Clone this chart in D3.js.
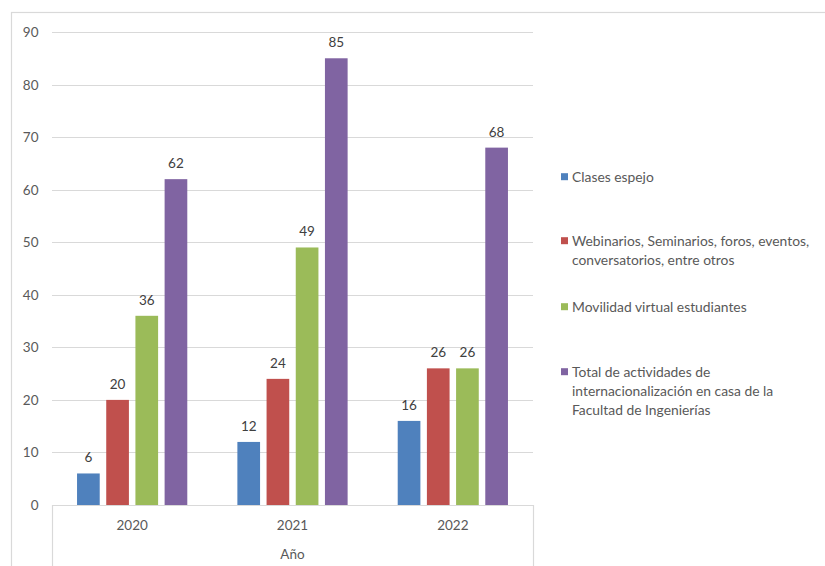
<!DOCTYPE html>
<html>
<head>
<meta charset="utf-8">
<script src="https://cdn.jsdelivr.net/npm/d3@7/dist/d3.min.js"></script>
<style>
  html, body { margin: 0; padding: 0; background: #fff; }
  svg { display: block; font-family: Lato, "Liberation Sans", sans-serif; }
</style>
</head>
<body>
<svg id="chart" width="825" height="566"></svg>
<script>
const years = ["2020", "2021", "2022"];
const seriesNames = [
  "Clases espejo",
  "Webinarios, Seminarios, foros, eventos, conversatorios, entre otros",
  "Movilidad virtual estudiantes",
  "Total de actividades de internacionalización en casa de la Facultad de Ingenierías"
];
const legendLines = [
  ["Clases espejo"],
  ["Webinarios, Seminarios, foros, eventos,", "conversatorios, entre otros"],
  ["Movilidad virtual estudiantes"],
  ["Total de actividades de", "internacionalización en casa de la", "Facultad de Ingenierías"]
];
const clasesEspejo = [6, 12, 16];
const webinarios = [20, 24, 26];
const movilidad = [36, 49, 26];
const total = [62, 85, 68];
const yTicks = [0, 10, 20, 30, 40, 50, 60, 70, 80, 90];
const axisTitle = "Año";
const colors = ["#4F81BD", "#C0504D", "#9BBB59", "#8064A2"];

const seriesValues = [clasesEspejo, webinarios, movilidad, total];

const svg = d3.select("#chart");
const W = 825, H = 566;

// outer frame (chart area border)
svg.append("rect")
  .attr("x", 11.5).attr("y", 12.5)
  .attr("width", W).attr("height", H)
  .attr("fill", "none").attr("stroke", "#D9D9D9").attr("stroke-width", 1.2);

const plot = { left: 52, right: 533, top: 32, bottom: 505 };

const y = d3.scaleLinear().domain([0, 90]).range([plot.bottom, plot.top]);
const x0 = d3.scaleBand().domain(years).range([plot.left, plot.right]).padding(0);
const x1 = d3.scaleBand().domain(d3.range(4)).range([0, x0.bandwidth()])
  .paddingInner(0.223).paddingOuter(0.858);

// gridlines
svg.append("g").selectAll("line").data(yTicks.filter(d => d > 0)).join("line")
  .attr("x1", plot.left).attr("x2", plot.right)
  .attr("y1", d => Math.round(y(d)) + 0.5).attr("y2", d => Math.round(y(d)) + 0.5)
  .attr("stroke", "#D9D9D9").attr("stroke-width", 1);

// y tick labels
svg.append("g").selectAll("text").data(yTicks).join("text")
  .attr("x", 38.5).attr("y", d => y(d) + 5)
  .attr("text-anchor", "end")
  .attr("font-size", 13.5).attr("fill", "#595959")
  .text(d => d);

// bars
const groups = svg.append("g").selectAll("g").data(years).join("g")
  .attr("transform", d => `translate(${x0(d)},0)`);

groups.selectAll("rect").data((d, i) => seriesValues.map((s, k) => ({ k, v: s[i] }))).join("rect")
  .attr("x", d => x1(d.k))
  .attr("width", x1.bandwidth())
  .attr("y", d => y(d.v))
  .attr("height", d => y(0) - y(d.v))
  .attr("fill", d => colors[d.k]);

groups.selectAll("text").data((d, i) => seriesValues.map((s, k) => ({ k, v: s[i] }))).join("text")
  .attr("x", d => x1(d.k) + x1.bandwidth() / 2)
  .attr("y", d => y(d.v) - 11)
  .attr("text-anchor", "middle")
  .attr("font-size", 13.5).attr("fill", "#404040")
  .text(d => d.v);

// category axis
const axisG = svg.append("g").attr("stroke", "#D9D9D9").attr("stroke-width", 1.2);
axisG.append("line").attr("x1", plot.left).attr("x2", plot.right)
  .attr("y1", plot.bottom + 0.5).attr("y2", plot.bottom + 0.5);
axisG.append("line").attr("x1", plot.left + 0.5).attr("x2", plot.left + 0.5)
  .attr("y1", plot.bottom).attr("y2", 566);
axisG.append("line").attr("x1", plot.right + 0.5).attr("x2", plot.right + 0.5)
  .attr("y1", plot.bottom).attr("y2", 566);

svg.append("g").selectAll("text").data(years).join("text")
  .attr("x", d => x0(d) + x0.bandwidth() / 2)
  .attr("y", 530)
  .attr("text-anchor", "middle")
  .attr("font-size", 13.5).attr("fill", "#595959")
  .text(d => d);

svg.append("text")
  .attr("x", (plot.left + plot.right) / 2).attr("y", 559)
  .attr("text-anchor", "middle")
  .attr("font-size", 13.5).attr("fill", "#595959")
  .text(axisTitle);

// legend
const legendTop = [176.7, 240.7, 306.7, 371.7];
const lineH = 19.2;
const leg = svg.append("g").selectAll("g").data(seriesNames).join("g");
leg.append("rect")
  .attr("x", 561).attr("y", (d, i) => legendTop[i] - 3.5)
  .attr("width", 7).attr("height", 7)
  .attr("fill", (d, i) => colors[i]);
leg.each(function (d, i) {
  d3.select(this).selectAll("text").data(legendLines[i]).join("text")
    .attr("x", 572).attr("y", (t, j) => legendTop[i] + 5 + j * lineH)
    .attr("font-size", 13.85).attr("fill", "#595959")
    .text(t => t);
});
</script>
</body>
</html>
